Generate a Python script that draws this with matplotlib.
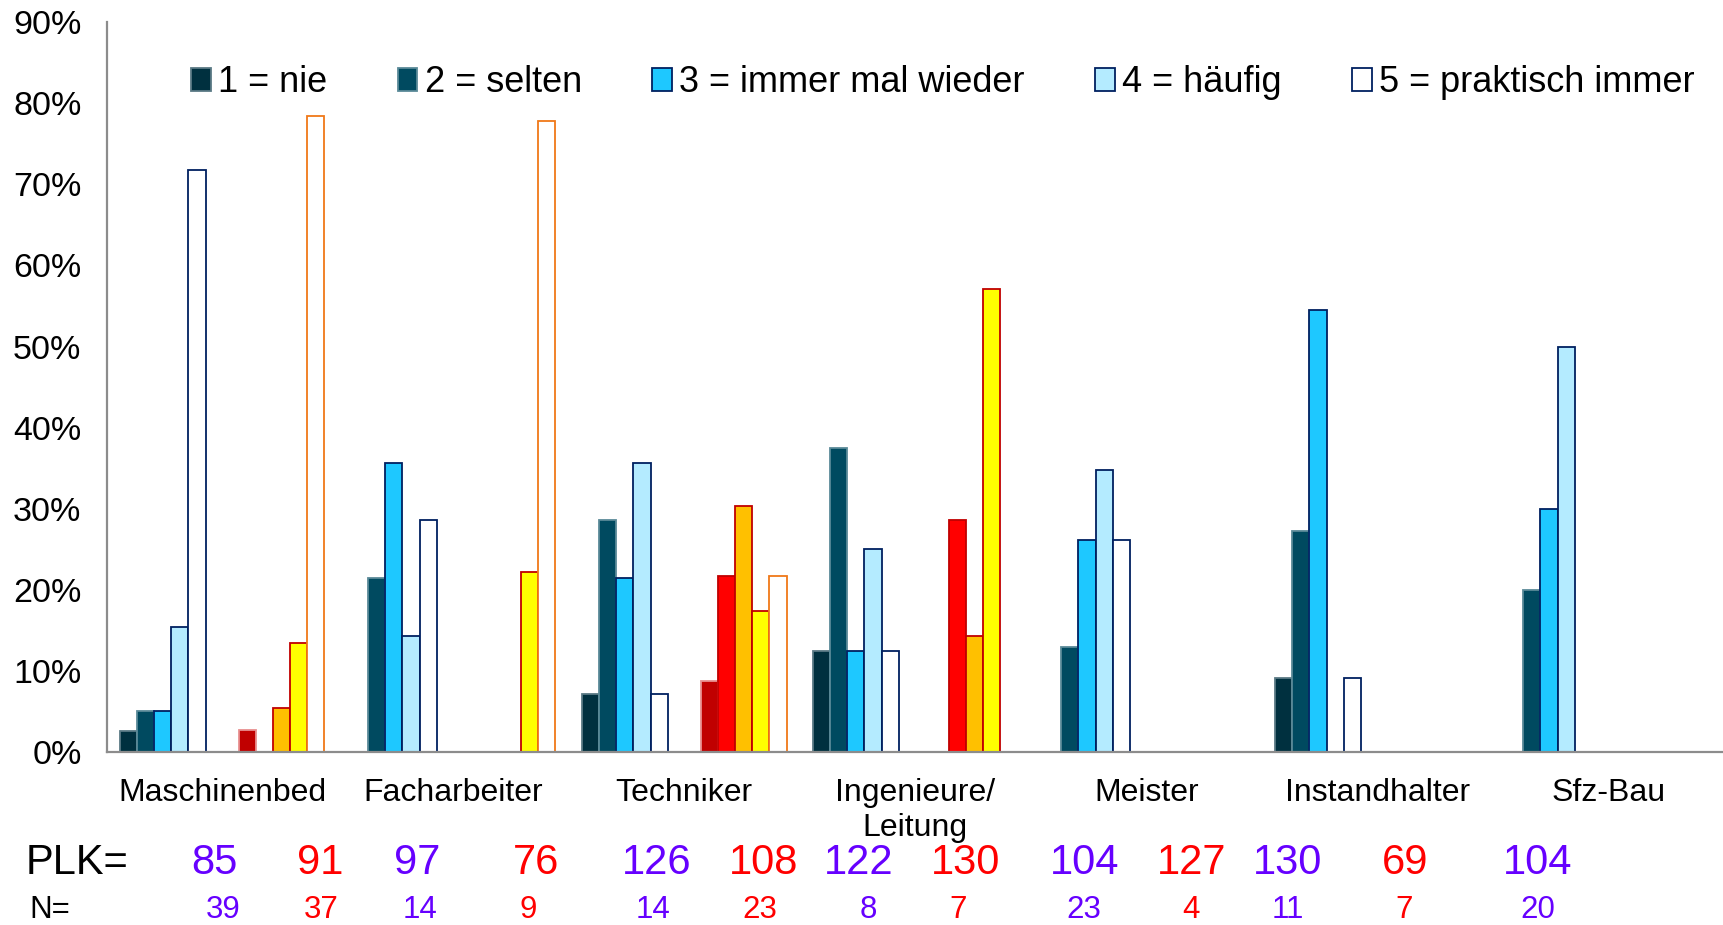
import matplotlib.pyplot as plt
import numpy as np
from matplotlib.patches import Patch
from matplotlib.transforms import blended_transform_factory

plt.rcParams['font.family'] = ['Liberation Sans', 'DejaVu Sans']

categories = ["Maschinenbed", "Facharbeiter", "Techniker", "Ingenieure/\nLeitung",
              "Meister", "Instandhalter", "Sfz-Bau"]
answers = ["1 = nie", "2 = selten", "3 = immer mal wieder", "4 = häufig", "5 = praktisch immer"]

# Anteile in % (Zeile = Antwort, Spalte = Berufsgruppe), blaue Gruppe
blue_vals = np.array([
    [2.6, 0, 7.1, 12.5, 0, 9.1, 0],
    [5.1, 21.4, 28.6, 37.5, 13.0, 27.3, 20.0],
    [5.1, 35.7, 21.4, 12.5, 26.1, 54.5, 30.0],
    [15.4, 14.3, 35.7, 25.0, 34.8, 0, 50.0],
    [71.8, 28.6, 7.1, 12.5, 26.1, 9.1, 0],
])
# rote Gruppe
red_vals = np.array([
    [2.7, 0, 8.7, 0, 0, 0, 0],
    [0, 0, 21.7, 28.6, 0, 0, 0],
    [5.4, 0, 30.4, 14.3, 0, 0, 0],
    [13.5, 22.2, 17.4, 57.1, 0, 0, 0],
    [78.4, 77.8, 21.7, 0, 0, 0, 0],
])

plk = [85, 91, 97, 76, 126, 108, 122, 130, 104, 127, 130, 69, 104]
n_vals = [39, 37, 14, 9, 14, 23, 8, 7, 23, 4, 11, 7, 20]

# layout of the hand placed text rows (x in category units)
plk_x = [-0.033, 0.424, 0.843, 1.357, 1.881, 2.343, 2.757, 3.219, 3.733, 4.195, 4.610, 5.119, 5.695]
n_x = [0.005, 0.429, 0.857, 1.324, 1.867, 2.329, 2.795, 3.186, 3.729, 4.191, 4.614, 5.114, 5.695]

blue_face = ['#00303F', '#004A60', '#1EC8FF', '#B4EBFF', '#FFFFFF']
blue_edge = ['#5A7A85', '#5A8A98', '#002060', '#002060', '#002060']
red_face = ['#C00000', '#FF0000', '#FFC000', '#FFFF00', '#FFFFFF']
red_edge = ['#E89090', '#C00000', '#C00000', '#C00000', '#F07818']
purple = '#6600FF'
red = '#FF0000'

fig = plt.figure(figsize=(17.24, 9.25), dpi=100)
ax = fig.add_axes([0.0618, 0.187, 0.9382, 0.789])

x = np.arange(len(categories))
w = 0.0743
off = 0.257
for j in range(5):
    for vals, shift, fc, ec in [(blue_vals, -off, blue_face, blue_edge),
                                (red_vals, off, red_face, red_edge)]:
        m = vals[j] > 0
        ax.bar(x[m] + shift + (j - 2) * w, vals[j][m], width=w, color=fc[j],
               edgecolor=ec[j], linewidth=1.3, zorder=2)

ax.set_xlim(-0.5, 6.5)
ax.set_ylim(0, 90)
ax.set_yticks(np.arange(0, 91, 10))
ax.set_yticklabels([f"{v}%" for v in range(0, 91, 10)], fontsize=24.5)
ax.set_xticks(x)
ax.set_xticklabels(categories, fontsize=23, linespacing=1.2)
ax.tick_params(axis='y', length=0, pad=18)
ax.tick_params(axis='x', length=0, pad=19)
for s in ['top', 'right']:
    ax.spines[s].set_visible(False)
for s in ['left', 'bottom']:
    ax.spines[s].set_color('#8C8C8C')
    ax.spines[s].set_linewidth(1.6)
    ax.spines[s].set_zorder(3)

handles = [Patch(facecolor=blue_face[j], edgecolor=blue_edge[j], linewidth=1.3)
           for j in range(5)]
fig.legend(handles, answers, loc='center', bbox_to_anchor=(0.547, 0.911), ncol=5,
           frameon=False, fontsize=26, handlelength=0.55, handleheight=0.6,
           handletextpad=0.2, columnspacing=1.95, borderpad=0)

tr = blended_transform_factory(ax.transData, fig.transFigure)
fig.text(0.015, 0.055, "PLK=", fontsize=30, va='baseline')
fig.text(0.017, 0.0, "N=", fontsize=22.5, va='bottom')
for i in range(len(plk)):
    c = purple if i % 2 == 0 else red
    ax.text(plk_x[i], 0.055, str(plk[i]), transform=tr, fontsize=30, color=c,
            ha='center', va='baseline')
    ax.text(n_x[i], 0.0, str(n_vals[i]), transform=tr, fontsize=22.5, color=c,
            ha='center', va='bottom')

fig.savefig("out.png", dpi=100)
